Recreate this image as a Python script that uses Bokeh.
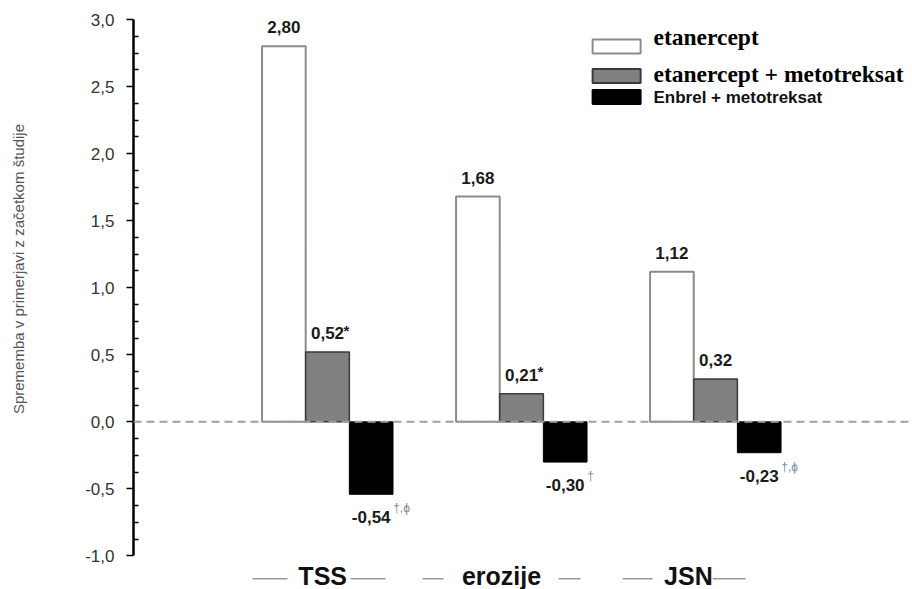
from bokeh.plotting import figure
from bokeh.models import (ColumnDataSource, Range1d, FixedTicker, Span,
                          LabelSet, LinearAxis)
from bokeh.core.properties import value
from bokeh.embed import file_html
from bokeh.resources import INLINE
import numpy as np

# ---------------- data ----------------
categories = ["TSS", "erozije", "JSN"]
series_names = ["etanercept", "etanercept + metotreksat", "Enbrel + metotreksat"]
etanercept = [2.80, 1.68, 1.12]
etanercept_mtx = [0.52, 0.21, 0.32]
enbrel_mtx = [-0.54, -0.30, -0.23]
labels_etanercept = ["2,80", "1,68", "1,12"]
labels_etanercept_mtx = ["0,52", "0,21", "0,32"]
labels_enbrel_mtx = ["-0,54", "-0,30", "-0,23"]
marks_etanercept_mtx = ["*", "*", ""]
marks_enbrel_mtx = ["\u2020,\u03d5", "\u2020", "\u2020,\u03d5"]
ytick_values = [-1.0, -0.5, 0.0, 0.5, 1.0, 1.5, 2.0, 2.5, 3.0]
ytick_labels = ["-1,0", "-0,5", "0,0", "0,5", "1,0", "1,5", "2,0", "2,5", "3,0"]
y_title = "Sprememba v primerjavi z  začetkom študije"

# ---------------- layout helpers ----------------
group_pos = [1, 2, 3]
bw = 0.225
offsets = [-bw, 0.0, bw]

SANS = "Liberation Sans"
SERIF = "Liberation Serif"

p = figure(width=912, height=589, output_backend="svg", toolbar_location=None,
           x_range=Range1d(0, 4.015), y_range=Range1d(-1.25, 3.0),
           x_axis_location=None, y_axis_location=None,
           min_border_left=133, min_border_right=0,
           min_border_top=19, min_border_bottom=0)
p.outline_line_color = None
p.background_fill_color = "white"
p.border_fill_color = "white"
for g in p.grid:
    g.visible = False

# main y axis
minor = [float(v) for v in np.arange(-1.0, 3.0001, 0.125)
         if abs((v * 2) - round(v * 2)) > 1e-9]
yax = LinearAxis(ticker=FixedTicker(ticks=ytick_values, minor_ticks=minor))
yax.major_label_overrides = {v: l for v, l in zip(ytick_values, ytick_labels)}
yax.bounds = (-1.0, 3.0)
yax.axis_line_width = 2.5
yax.axis_line_color = "black"
yax.major_tick_out = 7
yax.major_tick_in = 0
yax.major_tick_line_width = 1.5
yax.minor_tick_in = 5
yax.minor_tick_out = 0
yax.minor_tick_line_width = 1.5
yax.major_label_standoff = 12
yax.major_label_text_font = SANS
yax.major_label_text_font_size = "17px"
yax.major_label_text_color = "#333333"
p.add_layout(yax, "left")

# outer axis that only carries the y title (padded so it sits a bit higher)
tax = LinearAxis(ticker=FixedTicker(ticks=[]),
                 axis_line_color=None, major_tick_line_color=None,
                 minor_tick_line_color=None, major_tick_out=0, major_tick_in=0,
                 minor_tick_out=0, minor_tick_in=0,
                 major_label_text_font_size="0px", major_label_standoff=0,
                 axis_label="\u00a0" * 18 + y_title, axis_label_standoff=56,
                 axis_label_text_font=SANS, axis_label_text_font_size="15px",
                 axis_label_text_font_style="normal",
                 axis_label_text_color="#555555")
p.add_layout(tax, "left")

# bars
styles = [
    dict(fill_color="white", line_color="#8c8c8c", line_width=2),
    dict(fill_color="#808080", line_color="#3a3a3a", line_width=1.5),
    dict(fill_color="black", line_color="black", line_width=1),
]
series_vals = [etanercept, etanercept_mtx, enbrel_mtx]
for vals, off, st in zip(series_vals, offsets, styles):
    src = ColumnDataSource(dict(x=[g + off for g in group_pos], top=vals,
                                bottom=[0] * len(vals)))
    p.vbar(x="x", top="top", bottom="bottom", width=bw, source=src, **st)

# zero dashed line
p.add_layout(Span(location=0, dimension="width", line_color="#9e9e9e",
                  line_width=2, line_dash="8 5"))

# value labels
series_labels = [labels_etanercept, labels_etanercept_mtx, labels_enbrel_mtx]
for vals, labs, off in zip(series_vals, series_labels, offsets):
    src = ColumnDataSource(dict(
        x=[g + off for g in group_pos], y=vals, t=labs,
        yo=[19 if v >= 0 else -23 for v in vals]))
    p.add_layout(LabelSet(x="x", y="y", text="t", y_offset="yo", source=src,
                          text_align="center", text_baseline="middle",
                          text_font=value(SANS), text_font_style="bold",
                          text_font_size="17px", text_color="#1a1a1a"))

for vals, marks, off, col, xo, fs, fst, yop in [
        (etanercept_mtx, marks_etanercept_mtx, offsets[1], "#222222", 16, "15px", "bold", 22),
        (enbrel_mtx, marks_enbrel_mtx, offsets[2], "#7f8a99", 22, "12px", "normal", -14)]:
    src = ColumnDataSource(dict(
        x=[g + off for g in group_pos], y=vals, t=marks,
        yo=[yop] * len(vals)))
    p.add_layout(LabelSet(x="x", y="y", text="t", y_offset="yo", x_offset=xo,
                          source=src, text_align="left", text_baseline="middle",
                          text_font=value(SANS), text_font_style=fst,
                          text_font_size=fs, text_color=col))

# category labels with flanking lines
cat_x = [0.975, 1.897, 2.86]
cat_text_y = -1.15
cat_line_y = -1.17
p.text(x=cat_x, y=[cat_text_y] * 3, text=categories, text_align="center",
       text_baseline="middle", text_font=value(SANS),
       text_font_style="bold", text_font_size="25px", text_color="#111111")
seg_x0 = [0.613, 1.119, 1.490, 2.191, 2.521, 2.985]
seg_x1 = [0.794, 1.299, 1.598, 2.304, 2.675, 3.155]
p.segment(x0=seg_x0, x1=seg_x1, y0=[cat_line_y] * 6, y1=[cat_line_y] * 6,
          line_color="#9a9a9a", line_width=1.5)

# legend (custom)
leg_box_x = 2.49
leg_box_y = [2.798, 2.578, 2.422]
p.rect(x=[leg_box_x] * 3, y=leg_box_y, width=48, height=14,
       width_units="screen", height_units="screen",
       fill_color=[s["fill_color"] for s in styles],
       line_color=["#8c8c8c", "#3a3a3a", "black"], line_width=2)
leg_text_x = 2.68
leg_text_y = [2.866, 2.59, 2.422]
p.text(x=[leg_text_x] * 2, y=leg_text_y[:2], text=series_names[:2],
       text_align="left", text_baseline="middle", text_font=value(SERIF),
       text_font_style="bold", text_font_size="23.5px", text_color="black")
p.text(x=[leg_text_x], y=leg_text_y[2:], text=series_names[2:],
       text_align="left", text_baseline="middle", text_font=value(SANS),
       text_font_style="bold", text_font_size="17px", text_color="#111111")

open("out.html", "w").write(file_html(p, INLINE))
